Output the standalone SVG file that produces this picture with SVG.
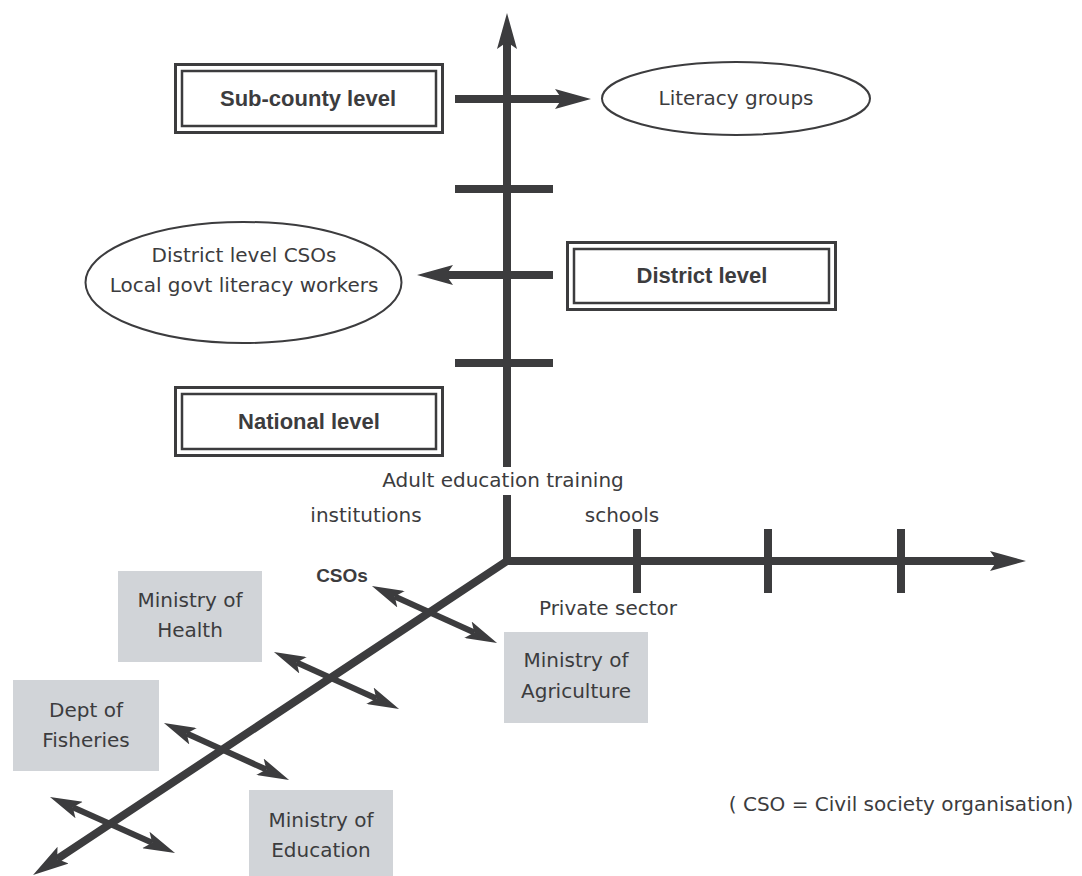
<svg xmlns="http://www.w3.org/2000/svg" width="1082" height="876" viewBox="0 0 1082 876">
<style>
.t{font-family:"DejaVu Sans","Liberation Sans",sans-serif;font-size:20px;fill:#3c3c3e;text-anchor:middle}
.b{font-family:"Liberation Sans",Arial,sans-serif;font-weight:bold;font-size:22px;fill:#3c3c3e;text-anchor:middle}
.ln{stroke:#3c3c3e;stroke-width:8;fill:none}
.dl{stroke:#3c3c3e;stroke-width:6;fill:none}
.bo{fill:#fff;stroke:#3c3c3e;stroke-width:3}
.bi{fill:none;stroke:#3c3c3e;stroke-width:2.5}
.el{fill:#fff;stroke:#3c3c3e;stroke-width:2}
.gb{fill:#d1d4d8}
</style>
<defs>
<marker id="ah" markerUnits="userSpaceOnUse" markerWidth="36" markerHeight="20" viewBox="0 0 36 20" refX="7" refY="10" orient="auto-start-reverse">
<path d="M0,0 L36,10 L0,20 L7,10 Z" fill="#3c3c3e"/>
</marker>
<marker id="as" markerUnits="userSpaceOnUse" markerWidth="32" markerHeight="18" viewBox="0 0 32 18" refX="7" refY="9" orient="auto-start-reverse">
<path d="M0,0 L32,9 L0,18 L7,9 Z" fill="#3c3c3e"/>
</marker>
</defs>
<rect width="1082" height="876" fill="#fff"/>
<g id="connectors">
<path class="ln" d="M507,565 L507,42" marker-end="url(#ah)"/>
<path class="ln" d="M57.2,859 L507,561 L997,561" stroke-linejoin="miter" marker-start="url(#ah)" marker-end="url(#ah)"/>
<path class="ln" d="M455,189 L553,189 M455,363 L553,363"/>
<path class="ln" d="M637,529 L637,593 M768,529 L768,593 M901,529 L901,593"/>
<path class="ln" d="M455,99 L562,99" marker-end="url(#ah)"/>
<path class="ln" d="M553,275 L446,275" marker-end="url(#ah)"/>
<path class="dl" d="M394.7,596.4 L474.3,632.6" marker-start="url(#as)" marker-end="url(#as)"/>
<path class="dl" d="M296.7,662.4 L376.3,698.6" marker-start="url(#as)" marker-end="url(#as)"/>
<path class="dl" d="M186.7,733.4 L266.3,769.6" marker-start="url(#as)" marker-end="url(#as)"/>
<path class="dl" d="M72.8,807.2 L152.2,842.8" marker-start="url(#as)" marker-end="url(#as)"/>
</g>
<g id="subcounty">
<rect class="bo" x="175.5" y="64.5" width="267" height="68"/>
<rect class="bi" x="182" y="71" width="254" height="55"/>
<text class="b" x="308" y="106">Sub-county level</text>
</g>
<g id="literacy-groups">
<ellipse class="el" cx="736" cy="98.5" rx="134" ry="36.5"/>
<text class="t" x="736" y="105">Literacy groups</text>
</g>
<g id="district-ellipse">
<ellipse class="el" cx="243.5" cy="282.5" rx="158" ry="60.5"/>
<text class="t" x="244" y="262">District level CSOs</text>
<text class="t" x="244" y="292">Local govt literacy workers</text>
</g>
<g id="district">
<rect class="bo" x="567.5" y="242.5" width="268" height="67"/>
<rect class="bi" x="574" y="249" width="255" height="54"/>
<text class="b" x="702" y="283">District level</text>
</g>
<g id="national">
<rect class="bo" x="175.5" y="387.5" width="267" height="68"/>
<rect class="bi" x="182" y="394" width="254" height="55"/>
<text class="b" x="309" y="429">National level</text>
</g>
<g id="adult-education">
<rect x="378" y="467" width="251" height="28" fill="#fff"/>
<text class="t" x="503" y="487">Adult education training</text>
<text class="t" x="366" y="522">institutions</text>
</g>
<g id="schools">
<text class="t" x="622" y="522">schools</text>
</g>
<g id="private-sector">
<text class="t" x="608" y="615">Private sector</text>
</g>
<g id="csos">
<text class="b" x="342" y="582" style="font-size:19px">CSOs</text>
</g>
<g id="ministry-health">
<rect class="gb" x="118" y="571" width="144" height="91"/>
<text class="t" x="190" y="607">Ministry of</text>
<text class="t" x="190" y="637">Health</text>
</g>
<g id="dept-fisheries">
<rect class="gb" x="13" y="680" width="146" height="91"/>
<text class="t" x="86" y="717">Dept of</text>
<text class="t" x="86" y="747">Fisheries</text>
</g>
<g id="ministry-education">
<rect class="gb" x="249" y="790" width="144" height="86"/>
<text class="t" x="321" y="827">Ministry of</text>
<text class="t" x="321" y="857">Education</text>
</g>
<g id="ministry-agriculture">
<rect class="gb" x="504" y="632" width="144" height="91"/>
<text class="t" x="576" y="667">Ministry of</text>
<text class="t" x="576" y="698">Agriculture</text>
</g>
<g id="note">
<text class="t" x="901" y="811">( CSO = Civil society organisation)</text>
</g>
</svg>
